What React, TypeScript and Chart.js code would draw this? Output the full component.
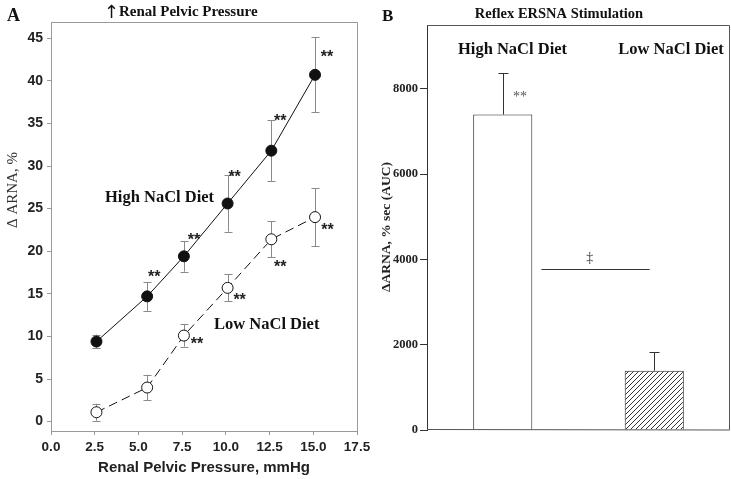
import React, { useEffect, useRef } from 'react';
import { Chart, registerables } from 'chart.js';

Chart.register(...registerables);

// ---------- Panel A data ----------
const PRESSURE = [2.6, 5.5, 7.6, 10.1, 12.6, 15.1];
const HIGH_NACL = [9.4, 14.7, 19.4, 25.6, 31.8, 40.7];
const HIGH_NACL_SE = [0.8, 1.7, 1.8, 3.3, 3.6, 4.4];
const LOW_NACL = [1.1, 4.0, 10.1, 15.7, 21.4, 24.0];
const LOW_NACL_SE = [1.0, 1.5, 1.3, 1.6, 2.1, 3.4];
const HIGH_SIG = [false, true, true, true, true, true];
const LOW_SIG = [false, false, true, true, true, true];
const X_TICKS_A = [0, 2.5, 5, 7.5, 10, 12.5, 15, 17.5];
const Y_TICKS_A = [0, 5, 10, 15, 20, 25, 30, 35, 40, 45];

// ---------- Panel B data ----------
const DIETS = ['High NaCl Diet', 'Low NaCl Diet'];
const AUC = [7400, 1390];
const AUC_SE = [985, 430];
const Y_TICKS_B = [0, 2000, 4000, 6000, 8000];

// ---------- style constants (pixel offsets of annotations) ----------
const HIGH_STAR_OFFSET = [[0, 0], [7, -24], [10, -21], [7, -31], [9, -34], [12, -22]];
const LOW_STAR_OFFSET = [[0, 0], [0, 0], [13, 4], [12, 8], [9, 23], [12.5, 9]];

const SERIF = '"Liberation Serif", "Times New Roman", serif';
const SANS = '"Liberation Sans", Arial, sans-serif';

function drawStar(ctx: CanvasRenderingContext2D, x: number, y: number, font: string, size: number, color: string) {
  ctx.save();
  ctx.font = font;
  ctx.fillStyle = color;
  ctx.textAlign = 'center';
  ctx.textBaseline = 'alphabetic';
  ctx.fillText('**', x, y + size * 0.58);
  ctx.restore();
}

const panelAPlugin = {
  id: 'panelA',
  beforeDatasetsDraw(chart: any) {
    const ctx = chart.ctx as CanvasRenderingContext2D;
    const xs = chart.scales.x;
    const ys = chart.scales.y;
    ctx.save();
    ctx.strokeStyle = '#8a8a8a';
    ctx.lineWidth = 1;
    const drawErr = (vals: number[], se: number[]) => {
      vals.forEach((v, i) => {
        const px = Math.round(xs.getPixelForValue(PRESSURE[i])) + 0.5;
        const top = ys.getPixelForValue(v + se[i]);
        const bot = ys.getPixelForValue(v - se[i]);
        ctx.beginPath();
        ctx.moveTo(px, top);
        ctx.lineTo(px, bot);
        ctx.moveTo(px - 4, Math.round(top) + 0.5);
        ctx.lineTo(px + 4, Math.round(top) + 0.5);
        ctx.moveTo(px - 4, Math.round(bot) + 0.5);
        ctx.lineTo(px + 4, Math.round(bot) + 0.5);
        ctx.stroke();
      });
    };
    drawErr(HIGH_NACL, HIGH_NACL_SE);
    drawErr(LOW_NACL, LOW_NACL_SE);
    ctx.restore();
  },
  afterDraw(chart: any) {
    const ctx = chart.ctx as CanvasRenderingContext2D;
    const a = chart.chartArea;
    const xs = chart.scales.x;
    const ys = chart.scales.y;
    ctx.save();
    // frame (top and right)
    ctx.strokeStyle = '#9a9a9a';
    ctx.lineWidth = 1;
    ctx.beginPath();
    ctx.moveTo(a.left, Math.round(a.top) + 0.5);
    ctx.lineTo(Math.round(a.right) + 0.5, Math.round(a.top) + 0.5);
    ctx.lineTo(Math.round(a.right) + 0.5, a.bottom);
    ctx.stroke();

    // asterisks
    const starFont = `bold 16px ${SANS}`;
    PRESSURE.forEach((p, i) => {
      const px = xs.getPixelForValue(p);
      if (HIGH_SIG[i]) {
        const py = ys.getPixelForValue(HIGH_NACL[i]);
        drawStar(ctx, px + HIGH_STAR_OFFSET[i][0], py + HIGH_STAR_OFFSET[i][1], starFont, 16, '#222');
      }
      if (LOW_SIG[i]) {
        const py = ys.getPixelForValue(LOW_NACL[i]);
        drawStar(ctx, px + LOW_STAR_OFFSET[i][0], py + LOW_STAR_OFFSET[i][1], starFont, 16, '#222');
      }
    });

    ctx.fillStyle = '#111';
    ctx.textBaseline = 'alphabetic';
    ctx.textAlign = 'left';
    ctx.font = `bold 18px ${SERIF}`;
    ctx.fillText('A', 7, 21);
    ctx.font = `18px "DejaVu Sans", sans-serif`;
    ctx.fillText('↑', 104, 18);
    ctx.font = `bold 15px ${SERIF}`;
    ctx.fillText('Renal Pelvic Pressure', 119, 16);

    ctx.font = `bold 16.5px ${SERIF}`;
    ctx.fillText('High NaCl Diet', 105, 201.5);
    ctx.fillText('Low NaCl Diet', 214, 328.5);

    // axis titles
    ctx.fillStyle = '#222';
    ctx.textAlign = 'center';
    ctx.textBaseline = 'middle';
    ctx.font = `bold 15px ${SANS}`;
    ctx.fillText('Renal Pelvic Pressure, mmHg', (a.left + a.right) / 2, 468);

    ctx.save();
    ctx.translate(13, 190);
    ctx.rotate(-Math.PI / 2);
    ctx.font = `15px ${SERIF}`;
    ctx.fillStyle = '#333';
    ctx.fillText('Δ ARNA, %', 0, 0);
    ctx.restore();

    ctx.restore();
  },
};

const panelBPlugin = {
  id: 'panelB',
  afterDatasetsDraw(chart: any) {
    const ctx = chart.ctx as CanvasRenderingContext2D;
    const xs = chart.scales.x;
    const ys = chart.scales.y;
    ctx.save();
    ctx.strokeStyle = '#333';
    ctx.lineWidth = 1;
    AUC.forEach((v, i) => {
      const px = Math.round(xs.getPixelForValue(i)) + 0.5;
      const top = Math.round(ys.getPixelForValue(v + AUC_SE[i])) + 0.5;
      const base = ys.getPixelForValue(v);
      ctx.beginPath();
      ctx.moveTo(px, base);
      ctx.lineTo(px, top);
      ctx.moveTo(px - 5, top);
      ctx.lineTo(px + 5, top);
      ctx.stroke();
    });
    ctx.restore();
  },
  afterDraw(chart: any) {
    const ctx = chart.ctx as CanvasRenderingContext2D;
    const a = chart.chartArea;
    const xs = chart.scales.x;
    const ys = chart.scales.y;
    ctx.save();
    // frame
    ctx.strokeStyle = '#555';
    ctx.lineWidth = 1;
    ctx.beginPath();
    ctx.moveTo(a.left, Math.round(a.top) + 0.5);
    ctx.lineTo(Math.round(a.right) - 0.5, Math.round(a.top) + 0.5);
    ctx.lineTo(Math.round(a.right) - 0.5, a.bottom);
    ctx.lineTo(a.left, Math.round(a.bottom) - 0.5);
    ctx.stroke();

    // significance line between groups
    const c0 = xs.getPixelForValue(0);
    const c1 = xs.getPixelForValue(1);
    const ly = Math.round(ys.getPixelForValue(3770)) + 0.5;
    ctx.strokeStyle = '#333';
    ctx.beginPath();
    ctx.moveTo(c0 + (c1 - c0) * 0.255, ly);
    ctx.lineTo(c0 + (c1 - c0) * 0.97, ly);
    ctx.stroke();
    ctx.fillStyle = '#333';
    ctx.font = `14px ${SERIF}`;
    ctx.textAlign = 'center';
    ctx.textBaseline = 'middle';
    ctx.fillText('‡', c0 + (c1 - c0) * 0.575, ly - 11);

    // asterisks
    drawStar(ctx, 140, 93, `14px ${SERIF}`, 14, '#555');

    ctx.fillStyle = '#111';
    ctx.textAlign = 'left';
    ctx.textBaseline = 'alphabetic';
    ctx.font = `bold 17px ${SERIF}`;
    ctx.fillText('B', 2, 20.5);
    ctx.textAlign = 'center';
    ctx.font = `bold 14.5px ${SERIF}`;
    ctx.fillText('Reflex ERSNA Stimulation', 179, 18);
    ctx.font = `bold 16.5px ${SERIF}`;
    ctx.fillText(DIETS[0], 132.5, 53.5);
    ctx.fillText(DIETS[1], 291, 53.5);

    ctx.save();
    ctx.translate(7, 227);
    ctx.rotate(-Math.PI / 2);
    ctx.textBaseline = 'middle';
    ctx.font = `bold 13.5px ${SERIF}`;
    ctx.fillStyle = '#222';
    ctx.fillText('ΔARNA, % sec (AUC)', 0, 0);
    ctx.restore();

    ctx.restore();
  },
};

function makeHatch(): CanvasPattern | string {
  const c = document.createElement('canvas');
  c.width = 5;
  c.height = 5;
  const g = c.getContext('2d');
  if (!g) return '#fff';
  g.fillStyle = '#fff';
  g.fillRect(0, 0, 5, 5);
  g.strokeStyle = '#333';
  g.lineWidth = 1;
  g.beginPath();
  g.moveTo(-1, 6);
  g.lineTo(6, -1);
  g.moveTo(-1, 1);
  g.lineTo(1, -1);
  g.moveTo(4, 6);
  g.lineTo(6, 4);
  g.stroke();
  const p = g.createPattern(c, 'repeat');
  return p || '#fff';
}

export default function App() {
  const refA = useRef<HTMLCanvasElement>(null);
  const refB = useRef<HTMLCanvasElement>(null);

  useEffect(() => {
    if (!refA.current || !refB.current) return;
    const axisGrey = '#9a9a9a';
    const chartA = new Chart(refA.current, {
      type: 'line',
      data: {
        datasets: [
          {
            label: 'High NaCl Diet',
            data: PRESSURE.map((x, i) => ({ x, y: HIGH_NACL[i] })),
            borderColor: '#111',
            borderWidth: 1,
            pointRadius: 5.5,
            pointBackgroundColor: '#111',
            pointBorderColor: '#111',
            pointBorderWidth: 1,
            tension: 0,
            fill: false,
          },
          {
            label: 'Low NaCl Diet',
            data: PRESSURE.map((x, i) => ({ x, y: LOW_NACL[i] })),
            borderColor: '#111',
            borderWidth: 1,
            borderDash: [9, 5],
            pointRadius: 5.5,
            pointBackgroundColor: '#fff',
            pointBorderColor: '#111',
            pointBorderWidth: 1,
            tension: 0,
            fill: false,
          },
        ],
      },
      options: {
        responsive: false,
        animation: false,
        devicePixelRatio: 1,
        layout: { padding: { left: 0, top: 22, right: 23, bottom: 0 } },
        plugins: { legend: { display: false }, tooltip: { enabled: false } },
        scales: {
          x: {
            type: 'linear',
            min: 0,
            max: 17.5,
            afterFit: (s: any) => { s.height = 48; },
            afterBuildTicks: (s: any) => { s.ticks = X_TICKS_A.map((v) => ({ value: v })); },
            border: { color: axisGrey, width: 1 },
            grid: { drawOnChartArea: false, tickLength: 4, color: axisGrey },
            ticks: {
              padding: 4,
              color: '#222',
              font: { family: SANS, weight: 'bold', size: 13.5 },
              callback: (v: any) => Number(v).toFixed(1),
            },
          },
          y: {
            type: 'linear',
            min: -1.1,
            max: 46.9,
            afterFit: (s: any) => { s.width = 51; },
            afterBuildTicks: (s: any) => { s.ticks = Y_TICKS_A.map((v) => ({ value: v })); },
            border: { color: axisGrey, width: 1 },
            grid: { drawOnChartArea: false, tickLength: 4, color: axisGrey },
            ticks: {
              padding: 4,
              color: '#222',
              font: { family: SANS, weight: 'bold', size: 14 },
              callback: (v: any) => String(v),
            },
          },
        },
      } as any,
      plugins: [panelAPlugin],
    });

    const chartB = new Chart(refB.current, {
      type: 'bar',
      data: {
        labels: DIETS,
        datasets: [
          {
            label: 'AUC',
            data: AUC,
            backgroundColor: ['#fff', makeHatch()] as any,
            borderColor: '#222',
            borderWidth: 1,
            barPercentage: 0.39,
            categoryPercentage: 1,
          },
        ],
      },
      options: {
        responsive: false,
        animation: false,
        devicePixelRatio: 1,
        layout: { padding: { left: 0, top: 25, right: 1, bottom: 49 } },
        plugins: { legend: { display: false }, tooltip: { enabled: false } },
        scales: {
          x: { display: false },
          y: {
            type: 'linear',
            min: 0,
            max: 9500,
            afterFit: (s: any) => { s.width = 47; },
            afterBuildTicks: (s: any) => { s.ticks = Y_TICKS_B.map((v) => ({ value: v })); },
            border: { color: '#333', width: 1 },
            grid: { drawOnChartArea: false, tickLength: 7, color: '#333' },
            ticks: {
              padding: 2,
              color: '#222',
              font: { family: SERIF, weight: 'bold', size: 12.5 },
              callback: (v: any) => String(v),
            },
          },
        },
      } as any,
      plugins: [panelBPlugin],
    });

    return () => {
      chartA.destroy();
      chartB.destroy();
    };
  }, []);

  return (
    <div style={{ position: 'fixed', left: 0, top: 0, width: 731, height: 479, background: '#fff' }}>
      <canvas ref={refA} width={380} height={479} style={{ position: 'absolute', left: 0, top: 0, width: 380, height: 479 }} />
      <canvas ref={refB} width={351} height={479} style={{ position: 'absolute', left: 380, top: 0, width: 351, height: 479 }} />
    </div>
  );
}
